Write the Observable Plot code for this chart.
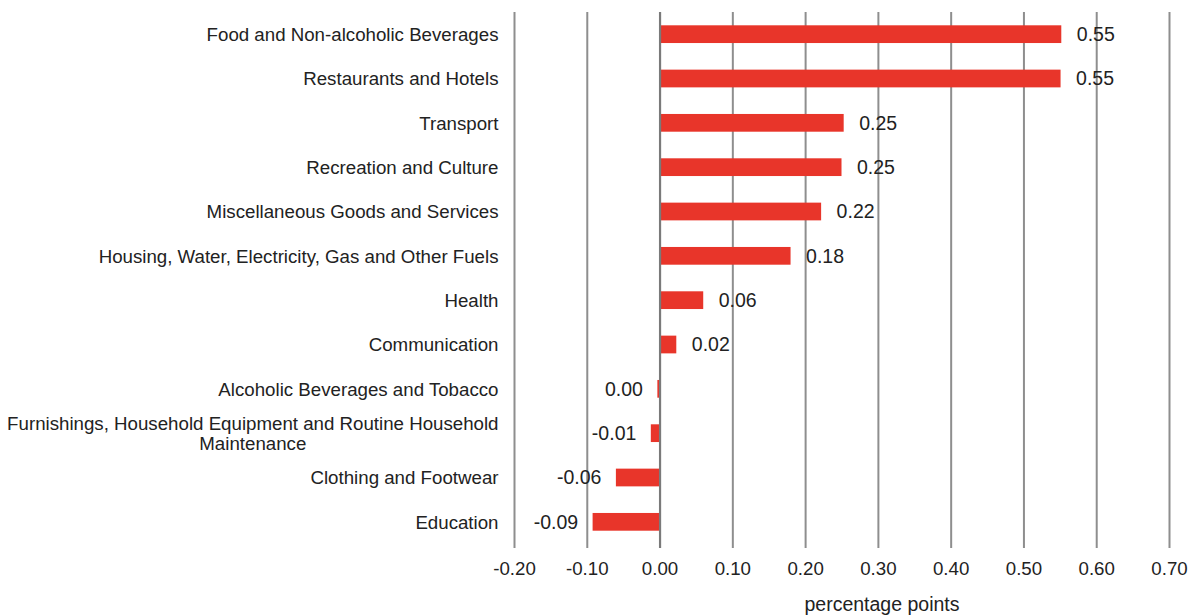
<!DOCTYPE html>
<html>
<head>
<meta charset="utf-8">
<script src="https://cdn.jsdelivr.net/npm/d3@7"></script>
<script src="https://cdn.jsdelivr.net/npm/@observablehq/plot@0.6"></script>
<style>
  html, body { margin: 0; padding: 0; background: #fff; }
  #chart svg { display: block; }
</style>
</head>
<body>
<div id="chart"></div>
<script>
const categories = [
  "Food and Non-alcoholic Beverages",
  "Restaurants and Hotels",
  "Transport",
  "Recreation and Culture",
  "Miscellaneous Goods and Services",
  "Housing, Water, Electricity, Gas and Other Fuels",
  "Health",
  "Communication",
  "Alcoholic Beverages and Tobacco",
  "Furnishings, Household Equipment and Routine Household Maintenance",
  "Clothing and Footwear",
  "Education"
];
const values = [0.552, 0.551, 0.253, 0.250, 0.222, 0.180, 0.060, 0.023, -0.003, -0.012, -0.060, -0.092];
const tickValues = [-0.2, -0.1, 0, 0.1, 0.2, 0.3, 0.4, 0.5, 0.6, 0.7];
const categoryLabels = {
  "Furnishings, Household Equipment and Routine Household Maintenance":
    "Furnishings, Household Equipment and Routine Household\nMaintenance"
};
const axisLabel = "percentage points";

const data = categories.map((c, i) => ({category: c, value: values[i]}));
const fmt = v => { const s = v.toFixed(2); return s === "-0.00" ? "0.00" : s; };
const FONT = "'Liberation Sans', Arial, Helvetica, sans-serif";
const red = "#e8352a";
const grey = "#8e8e8e";

const chart = Plot.plot({
  width: 1190,
  height: 615,
  marginLeft: 514,
  marginRight: 21,
  marginTop: 12,
  marginBottom: 71,
  style: {fontFamily: FONT, fontSize: "18.7px", color: "#222", background: "#fff"},
  x: {domain: [-0.2, 0.7]},
  y: {domain: categories, paddingInner: 0.6, paddingOuter: 0.3, round: false},
  marks: [
    Plot.ruleX(tickValues.filter(d => d !== 0), {stroke: grey, strokeWidth: 2, insetBottom: -4}),
    Plot.barX(data, {x: "value", y: "category", fill: red}),
    Plot.ruleX([0], {stroke: "#7a7a7a", strokeWidth: 2.2, insetBottom: -4}),
    Plot.text(data.filter(d => d.value >= 0), {
      x: "value", y: "category", text: d => fmt(d.value),
      textAnchor: "start", dx: 15, fill: "#222", fontSize: 19.5
    }),
    Plot.text(data.filter(d => d.value < 0), {
      x: "value", y: "category", text: d => fmt(d.value),
      textAnchor: "end", dx: -15, fill: "#222", fontSize: 19.5
    }),
    Plot.axisY({
      tickSize: 0, tickPadding: 16, label: null,
      tickFormat: d => categoryLabels[d] ?? d,
      fontSize: 18.7, fill: "#222", lineHeight: 1.08
    }),
    Plot.axisX({
      ticks: tickValues, tickSize: 0, tickPadding: 17, label: null,
      tickFormat: d => fmt(d), fontSize: 18.7, fill: "#222"
    }),
    Plot.text([axisLabel], {
      frameAnchor: "bottom", dx: 40, dy: 66, fontSize: 19.5, fill: "#222"
    })
  ]
});

document.getElementById("chart").appendChild(chart);

// Center the wrapped second line under the first, as in the reference.
chart.querySelectorAll("text").forEach(t => {
  const spans = t.querySelectorAll("tspan");
  if (spans.length === 2 && spans[0].textContent.startsWith("Furnishings")) {
    const w1 = spans[0].getComputedTextLength();
    const w2 = spans[1].getComputedTextLength();
    const x0 = +(spans[0].getAttribute("x") || 0);
    spans[1].setAttribute("x", x0 - (w1 - w2) / 2);
  }
});
</script>
</body>
</html>
